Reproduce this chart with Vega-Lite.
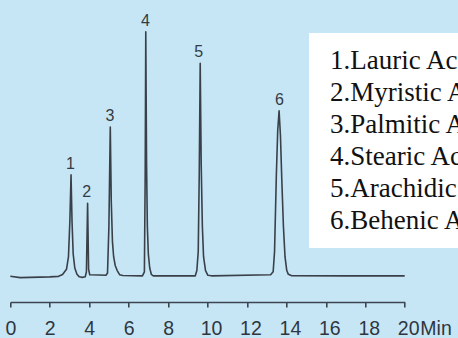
{
  "$schema": "https://vega.github.io/schema/vega-lite/v6.json",
  "autosize": {"type": "none"},
  "width": 394.4,
  "height": 302,
  "padding": {"left": 10.3, "top": 0, "right": 53.3, "bottom": 36},
  "background": "#c6e6f6",
  "config": {
    "view": {"stroke": null},
    "axisX": {
      "grid": false,
      "domainColor": "#3d4650", "domainWidth": 1.6,
      "tickColor": "#3d4650", "tickWidth": 1.6, "tickSize": 5,
      "labelFont": "Liberation Sans", "labelFontSize": 19.5, "labelColor": "#2f3640",
      "labelPadding": 12, "labelFlush": false, "labelOverlap": false,
      "titleFont": "Liberation Sans", "titleFontSize": 19.5, "titleFontWeight": "normal",
      "titleColor": "#2f3640", "titleAlign": "left", "titleBaseline": "alphabetic",
      "titleX": 409.5, "titleY": 32.5
    }
  },
  "datasets": {
    "trace": [
      {"time": 0, "signal": 0.2}, {"time": 0.5, "signal": -0.3}, {"time": 1, "signal": -0.2},
      {"time": 2, "signal": 0}, {"time": 2.45, "signal": 0.2}, {"time": 2.65, "signal": 0.9},
      {"time": 2.85, "signal": 3}, {"time": 2.95, "signal": 8}, {"time": 3.02, "signal": 22},
      {"time": 3.08, "signal": 40.5}, {"time": 3.13, "signal": 22}, {"time": 3.19, "signal": 9},
      {"time": 3.27, "signal": 3.5}, {"time": 3.38, "signal": 1}, {"time": 3.5, "signal": 0},
      {"time": 3.65, "signal": -0.2}, {"time": 3.8, "signal": 0}, {"time": 3.86, "signal": 2},
      {"time": 3.92, "signal": 29.2}, {"time": 3.97, "signal": 3}, {"time": 4.03, "signal": 0.8},
      {"time": 4.5, "signal": 0.7}, {"time": 4.85, "signal": 0.6}, {"time": 4.93, "signal": 1.5},
      {"time": 5.0, "signal": 20}, {"time": 5.07, "signal": 59.5}, {"time": 5.12, "signal": 30},
      {"time": 5.18, "signal": 14}, {"time": 5.24, "signal": 8}, {"time": 5.32, "signal": 4.5},
      {"time": 5.42, "signal": 2.5}, {"time": 5.55, "signal": 0.8}, {"time": 5.7, "signal": 0.5},
      {"time": 6.7, "signal": 0.4}, {"time": 6.8, "signal": 2}, {"time": 6.84, "signal": 40},
      {"time": 6.87, "signal": 97.4}, {"time": 6.91, "signal": 45}, {"time": 6.95, "signal": 20},
      {"time": 7.0, "signal": 9}, {"time": 7.07, "signal": 3.5}, {"time": 7.15, "signal": 1},
      {"time": 7.25, "signal": 0.4}, {"time": 9.38, "signal": 0.4}, {"time": 9.46, "signal": 2.5},
      {"time": 9.53, "signal": 10}, {"time": 9.58, "signal": 40}, {"time": 9.63, "signal": 84.8},
      {"time": 9.68, "signal": 45}, {"time": 9.74, "signal": 20}, {"time": 9.8, "signal": 8},
      {"time": 9.9, "signal": 2.5}, {"time": 10.02, "signal": 0.6}, {"time": 10.2, "signal": 0.4},
      {"time": 13.2, "signal": 0.8}, {"time": 13.33, "signal": 2}, {"time": 13.4, "signal": 10},
      {"time": 13.49, "signal": 40}, {"time": 13.56, "signal": 58}, {"time": 13.63, "signal": 66},
      {"time": 13.7, "signal": 56}, {"time": 13.77, "signal": 38}, {"time": 13.85, "signal": 20},
      {"time": 13.93, "signal": 8}, {"time": 14.02, "signal": 2.5}, {"time": 14.1, "signal": 1},
      {"time": 14.25, "signal": 0.5}, {"time": 17, "signal": 0.4}, {"time": 20, "signal": 0.4}
    ],
    "peaks": [
      {"peak": "1", "name": "1.Lauric Acid", "time": 3.05, "signal": 40.5},
      {"peak": "2", "name": "2.Myristic Acid", "time": 3.88, "signal": 29.2},
      {"peak": "3", "name": "3.Palmitic Acid", "time": 5.05, "signal": 59.5},
      {"peak": "4", "name": "4.Stearic Acid", "time": 6.85, "signal": 97.4},
      {"peak": "5", "name": "5.Arachidic Acid", "time": 9.55, "signal": 84.8},
      {"peak": "6", "name": "6.Behenic Acid", "time": 13.65, "signal": 66}
    ]
  },
  "layer": [
    {
      "data": {"name": "trace"},
      "mark": {"type": "line", "color": "#3a4048", "strokeWidth": 1.6, "strokeJoin": "round"},
      "encoding": {
        "x": {
          "field": "time", "type": "quantitative",
          "scale": {"domain": [0, 20], "nice": false, "zero": false},
          "axis": {
            "values": [0, 2, 4, 6, 8, 10, 12, 14, 16, 18, 20],
            "labelOverlap": false,
            "labelOffset": {"condition": {"test": "datum.value >= 10", "value": 3.5}, "value": 0},
            "title": "Min"
          }
        },
        "y": {
          "field": "signal", "type": "quantitative",
          "scale": {"domain": [-10, 110], "nice": false, "zero": false},
          "axis": null
        }
      }
    },
    {
      "data": {"name": "peaks"},
      "mark": {"type": "text", "font": "Liberation Sans", "fontSize": 16, "dy": -6, "baseline": "alphabetic", "align": "center"},
      "encoding": {
        "x": {"field": "time", "type": "quantitative", "axis": {"values": [0, 2, 4, 6, 8, 10, 12, 14, 16, 18, 20], "labelOverlap": false, "labelOffset": {"condition": {"test": "datum.value >= 10", "value": 3.5}, "value": 0}, "title": "Min"}},
        "y": {"field": "signal", "type": "quantitative"},
        "text": {"field": "peak"},
        "color": {
          "field": "name", "type": "nominal",
          "scale": {"range": ["#353b42"]},
          "legend": {
            "orient": "none", "legendX": 298.7, "legendY": 33,
            "title": null, "fillColor": "#ffffff", "padding": 14,
            "labelOffset": -20, "symbolSize": 0, "symbolOpacity": 0, "symbolStrokeWidth": 0,
            "labelFont": "Liberation Serif", "labelFontSize": 27, "labelColor": "#111111",
            "rowPadding": 4, "labelLimit": 400
          }
        }
      }
    }
  ]
}
